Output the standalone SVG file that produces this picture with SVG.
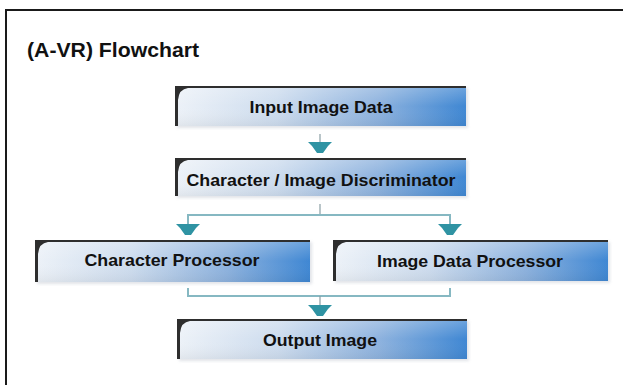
<svg xmlns="http://www.w3.org/2000/svg" width="623" height="385" viewBox="0 0 623 385">
  <defs>
    <linearGradient id="boxGrad" x1="0" y1="0" x2="1" y2="0">
      <stop offset="0" stop-color="#edf2f8"/>
      <stop offset="0.35" stop-color="#cddcee"/>
      <stop offset="0.7" stop-color="#8db2de"/>
      <stop offset="1" stop-color="#3f87d3"/>
    </linearGradient>
    <linearGradient id="shine" x1="0" y1="0" x2="0" y2="1">
      <stop offset="0" stop-color="#ffffff" stop-opacity="0.25"/>
      <stop offset="0.5" stop-color="#ffffff" stop-opacity="0"/>
      <stop offset="1" stop-color="#000000" stop-opacity="0.05"/>
    </linearGradient>
    <filter id="soft" x="-5%" y="-20%" width="110%" height="150%">
      <feGaussianBlur stdDeviation="1.5"/>
    </filter>
    <g id="arrowHead">
      <path d="M-12,0 H12 L8,4 L3,11 H-3 L-8,4 Z" class="head"/>
    </g>
  </defs>
  <style>
    .frame { fill: none; stroke: #1a1a1a; stroke-width: 2; }
    .title { font-family: "Liberation Sans", Arial, sans-serif; font-weight: bold; font-size: 20px; fill: #111; }
    .box { fill: url(#boxGrad); }
    .gloss { fill: url(#shine); }
    .shadow { fill: #c9ced6; opacity: 0.55; filter: url(#soft); }
    .edge { fill: #2e2e2e; }
    .label { font-family: "Liberation Sans", Arial, sans-serif; font-weight: bold; font-size: 16.5px; fill: #111; text-anchor: middle; }
    .line { fill: none; stroke: #86b8c2; stroke-width: 2; }
    .stem { fill: none; stroke: #8a9ea4; stroke-width: 1.2; }
    .head { fill: #2f93a3; }
  </style>

  <!-- frame -->
  <path class="frame" d="M6,385 V10 H623"/>
  <text class="title" x="27" y="57" textLength="172" lengthAdjust="spacingAndGlyphs">(A-VR) Flowchart</text>

  <!-- connectors -->
  <g id="connectors">
    <line class="stem" x1="320" y1="134" x2="320" y2="143"/>
    <use href="#arrowHead" x="320" y="142"/>

    <line class="stem" x1="320" y1="204" x2="320" y2="215"/>
    <path class="line" d="M188,226 V215 H450 V226"/>
    <use href="#arrowHead" x="188" y="224"/>
    <use href="#arrowHead" x="450" y="224"/>

    <path class="line" d="M188,288 V296 H450 V288"/>
    <line class="stem" x1="320" y1="296" x2="320" y2="306"/>
    <use href="#arrowHead" x="320" y="305"/>
  </g>

  <g id="node-input">
    <rect class="shadow" x="177" y="88" width="291" height="40"/>
    <rect class="box" x="175" y="86" width="291" height="40"/>
    <rect class="gloss" x="175" y="86" width="291" height="40"/>
    <rect class="edge" x="175" y="86" width="291" height="2"/>
    <path class="edge" d="M175,86 H188 V88 Q179,89 178,100 V126 H175 Z"/>
    <text class="label" x="321" y="113" textLength="143" lengthAdjust="spacingAndGlyphs">Input Image Data</text>
  </g>

  <g id="node-discriminator">
    <rect class="shadow" x="177" y="160" width="291" height="38"/>
    <rect class="box" x="175" y="158" width="291" height="38"/>
    <rect class="gloss" x="175" y="158" width="291" height="38"/>
    <rect class="edge" x="175" y="158" width="291" height="2"/>
    <path class="edge" d="M175,158 H188 V160 Q179,161 178,172 V196 H175 Z"/>
    <text class="label" x="321" y="186" textLength="269" lengthAdjust="spacingAndGlyphs">Character / Image Discriminator</text>
  </g>

  <g id="node-character">
    <rect class="shadow" x="37" y="242" width="275" height="42"/>
    <rect class="box" x="35" y="240" width="275" height="42"/>
    <rect class="gloss" x="35" y="240" width="275" height="42"/>
    <rect class="edge" x="35" y="240" width="275" height="2"/>
    <path class="edge" d="M35,240 H48 V242 Q39,243 38,254 V282 H35 Z"/>
    <text class="label" x="172" y="266" textLength="175" lengthAdjust="spacingAndGlyphs">Character Processor</text>
  </g>

  <g id="node-image">
    <rect class="shadow" x="335" y="242" width="275" height="41"/>
    <rect class="box" x="333" y="240" width="275" height="41"/>
    <rect class="gloss" x="333" y="240" width="275" height="41"/>
    <rect class="edge" x="333" y="240" width="275" height="2"/>
    <path class="edge" d="M333,240 H346 V242 Q337,243 336,254 V281 H333 Z"/>
    <text class="label" x="470" y="267" textLength="186" lengthAdjust="spacingAndGlyphs">Image Data Processor</text>
  </g>

  <g id="node-output">
    <rect class="shadow" x="179" y="321" width="290" height="40"/>
    <rect class="box" x="177" y="319" width="290" height="40"/>
    <rect class="gloss" x="177" y="319" width="290" height="40"/>
    <rect class="edge" x="177" y="319" width="290" height="2"/>
    <path class="edge" d="M177,319 H190 V321 Q181,322 180,333 V359 H177 Z"/>
    <text class="label" x="320" y="346" textLength="114" lengthAdjust="spacingAndGlyphs">Output Image</text>
  </g>
</svg>
